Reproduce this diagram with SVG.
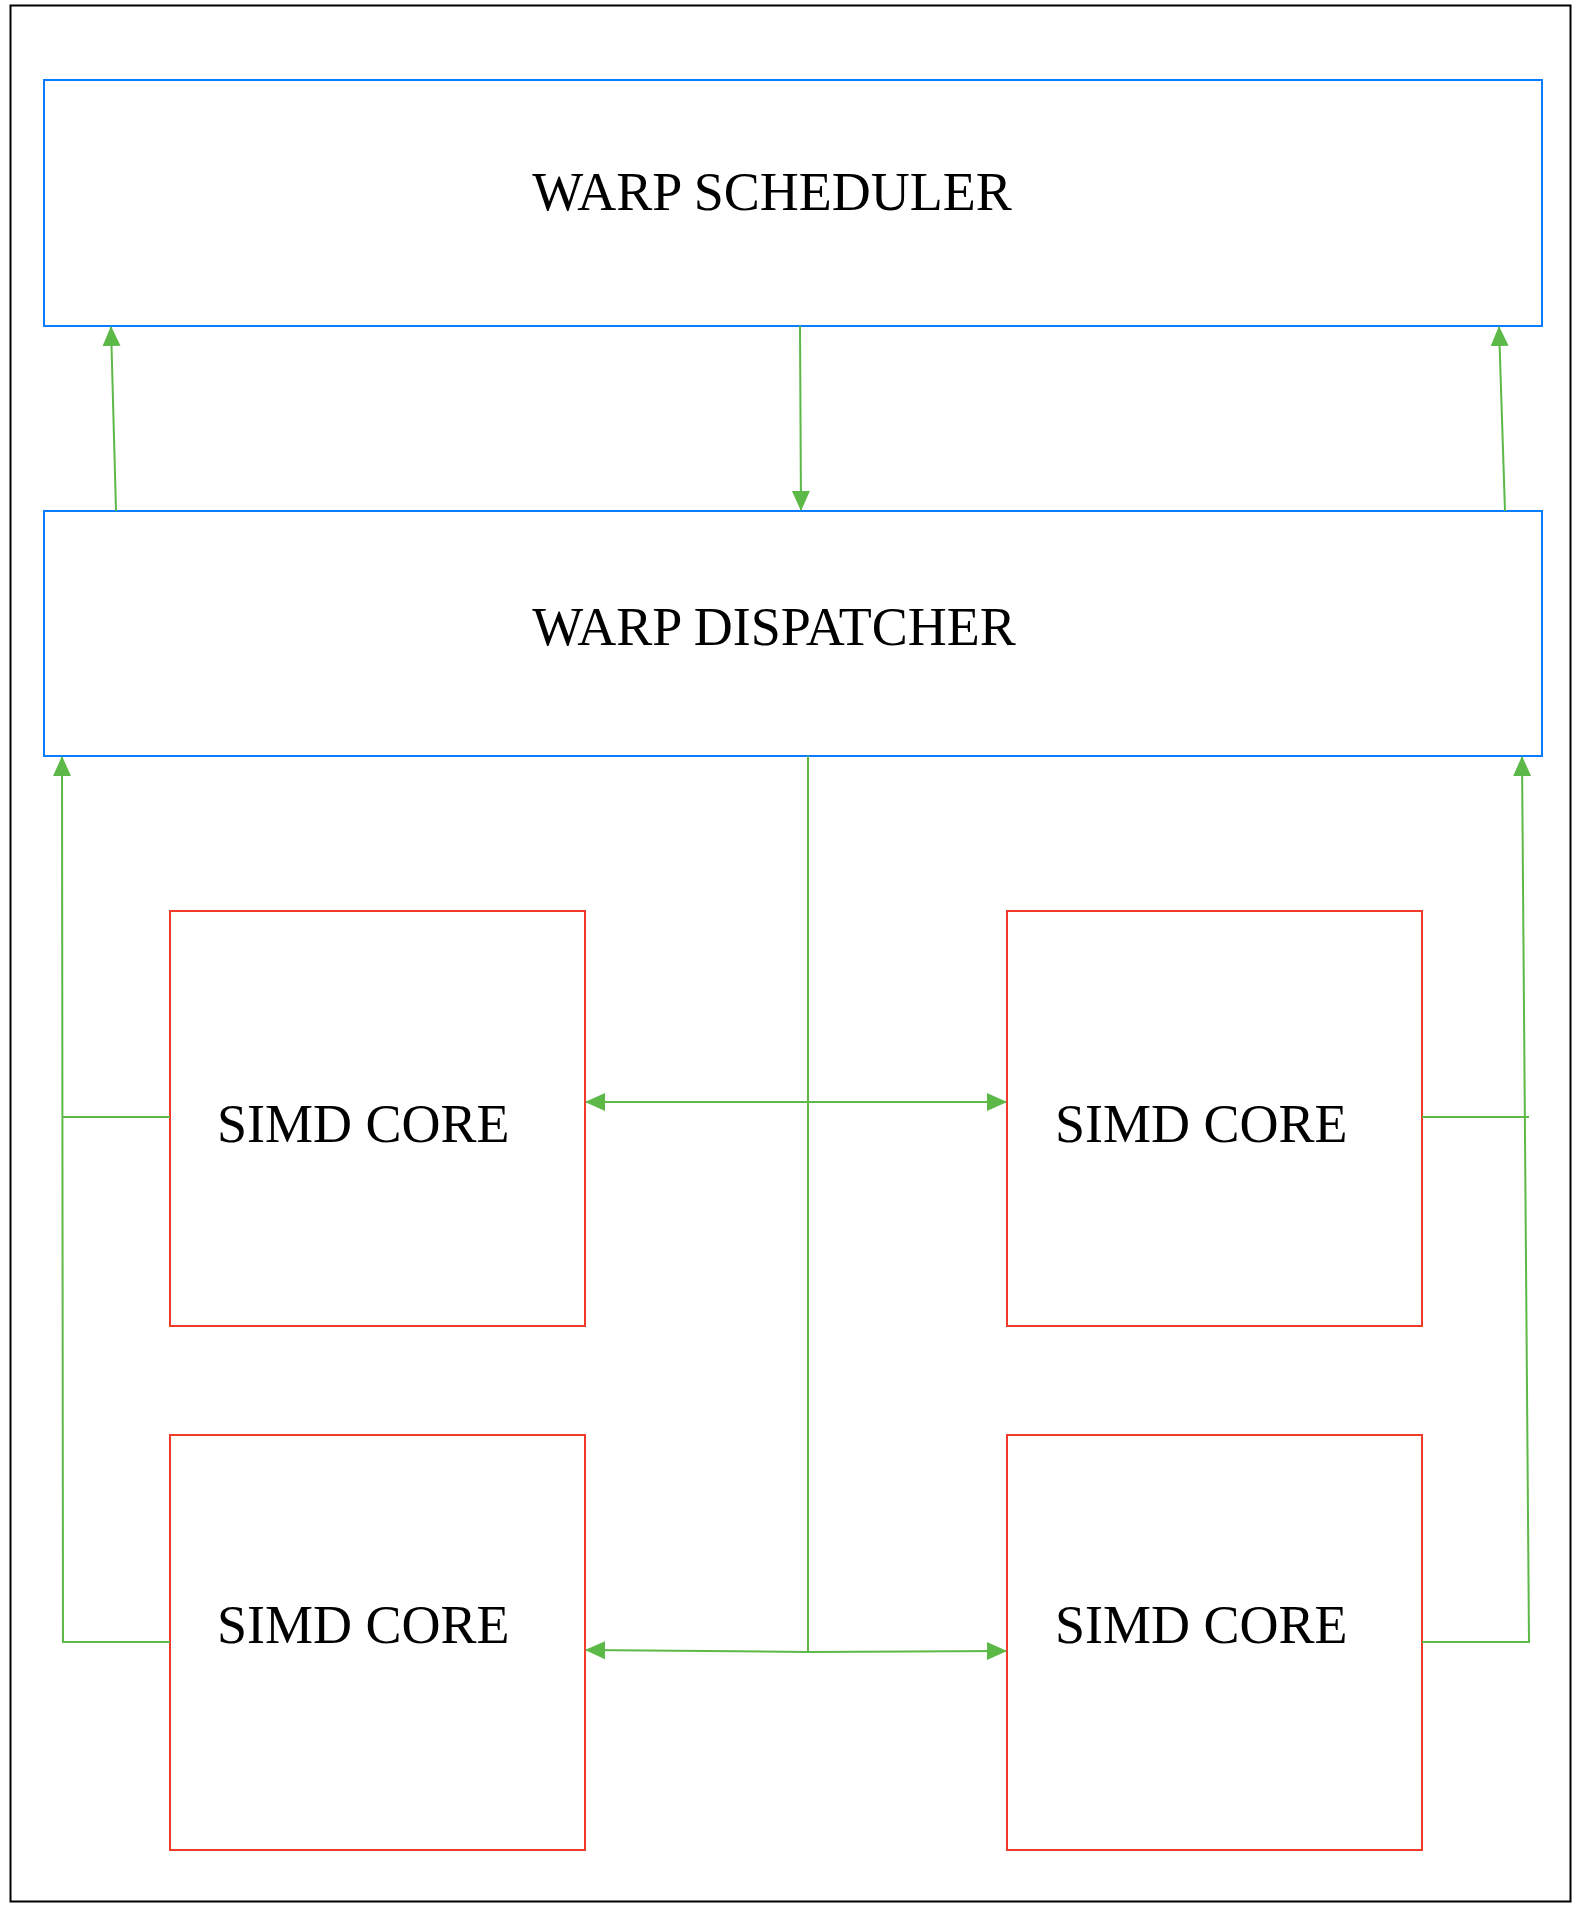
<svg xmlns="http://www.w3.org/2000/svg" width="1575" height="1909" viewBox="0 0 1575 1909">
<style>
.frame{fill:#fff;stroke:#000;stroke-width:2}
.blue{fill:#fff;stroke:#0a7cff;stroke-width:2}
.red{fill:#fff;stroke:#f03a2a;stroke-width:2}
.lbl{font-family:"Liberation Serif","Times New Roman",serif;font-size:54px;fill:#000}
.con{fill:none;stroke:#5cb947;stroke-width:2}
</style>
<defs>
<marker id="ah" markerUnits="userSpaceOnUse" markerWidth="20" markerHeight="20" refX="19" refY="10" orient="auto-start-reverse" viewBox="0 0 20 20">
<path d="M0,1 L20,10 L0,19 Z" fill="#5cb947"/>
</marker>
</defs>
<rect width="1575" height="1909" fill="#fff"/>
<rect class="frame" x="10.5" y="5.5" width="1560" height="1896"/>
<g id="scheduler">
<rect class="blue" x="44" y="80" width="1498" height="246"/>
<text class="lbl" x="772" y="210" text-anchor="middle">WARP SCHEDULER</text>
</g>
<g id="dispatcher">
<rect class="blue" x="44" y="511" width="1498" height="245"/>
<text class="lbl" x="774" y="645" text-anchor="middle">WARP DISPATCHER</text>
</g>
<g id="core1">
<rect class="red" x="170" y="911" width="415" height="415"/>
<text class="lbl" x="217" y="1142">SIMD CORE</text>
</g>
<g id="core2">
<rect class="red" x="1007" y="911" width="415" height="415"/>
<text class="lbl" x="1055" y="1142">SIMD CORE</text>
</g>
<g id="core3">
<rect class="red" x="170" y="1435" width="415" height="415"/>
<text class="lbl" x="217" y="1643">SIMD CORE</text>
</g>
<g id="core4">
<rect class="red" x="1007" y="1435" width="415" height="415"/>
<text class="lbl" x="1055" y="1643">SIMD CORE</text>
</g>
<g id="connectors">
<path class="con" d="M116,511 L111,327" marker-end="url(#ah)"/>
<path class="con" d="M1505,511 L1499,327" marker-end="url(#ah)"/>
<path class="con" d="M800,326 L801,510" marker-end="url(#ah)"/>
<path class="con" d="M170,1642 L63,1642 L62,757" marker-end="url(#ah)"/>
<path class="con" d="M170,1117 L62,1117"/>
<path class="con" d="M1422,1642 L1529,1642 L1522,757" marker-end="url(#ah)"/>
<path class="con" d="M1422,1117 L1529,1117"/>
<path class="con" d="M808,756 L808,1652"/>
<path class="con" d="M586,1102 L1006,1102" marker-start="url(#ah)" marker-end="url(#ah)"/>
<path class="con" d="M586,1650 L808,1652 L1006,1651" marker-start="url(#ah)" marker-end="url(#ah)"/>
</g>
</svg>
